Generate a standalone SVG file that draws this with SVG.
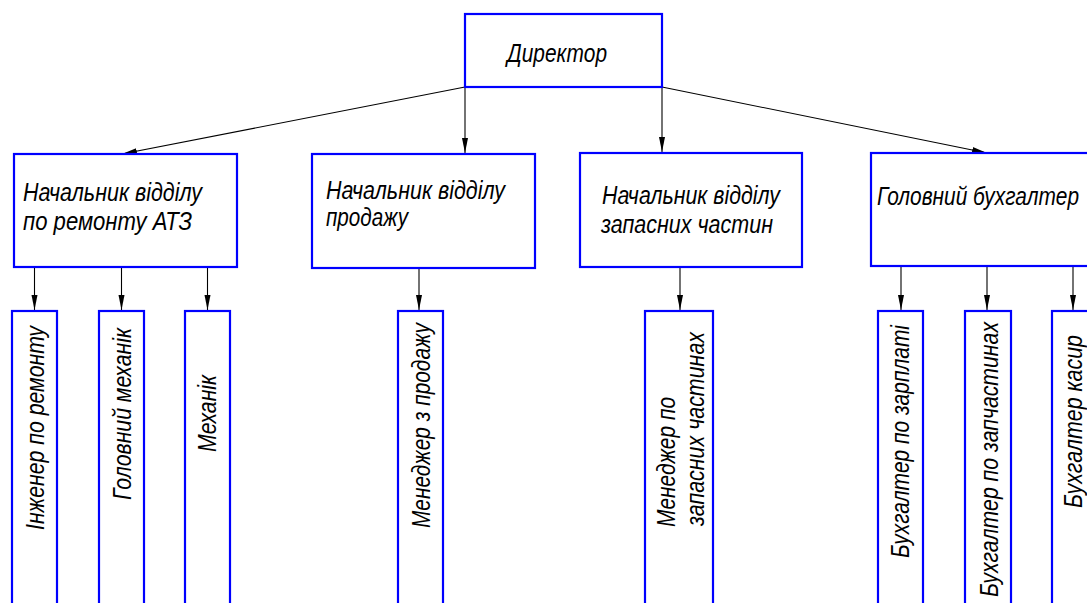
<svg xmlns="http://www.w3.org/2000/svg" width="1087" height="603" viewBox="0 0 1087 603">
<style>
.box{fill:#fff;stroke:#0000ff;stroke-width:2.2}
.t{font-family:"Liberation Sans",Arial,sans-serif;font-style:italic;font-size:26px;fill:#000}
.c{stroke:#000;stroke-width:1.1;fill:none;marker-end:url(#ah)}
</style>
<defs>
<marker id="ah" markerUnits="userSpaceOnUse" markerWidth="16" markerHeight="8" refX="15" refY="3" orient="auto" viewBox="0 0 16 6">
<path d="M0,0 L15,3 L0,6 z" fill="#000"/>
</marker>
</defs>
<rect width="1087" height="603" fill="#fff"/>
<g id="connectors">
<line class="c" x1="465" y1="87" x2="122" y2="154"/>
<line class="c" x1="465" y1="87" x2="465" y2="153"/>
<line class="c" x1="662" y1="87" x2="662" y2="152"/>
<line class="c" x1="662" y1="87" x2="987" y2="153"/>
<line class="c" x1="34.5" y1="267" x2="34.5" y2="310"/>
<line class="c" x1="121.5" y1="267" x2="121.5" y2="310"/>
<line class="c" x1="207.5" y1="267" x2="207.5" y2="310"/>
<line class="c" x1="419" y1="268" x2="419" y2="310"/>
<line class="c" x1="680" y1="267" x2="680" y2="310"/>
<line class="c" x1="901" y1="266" x2="901" y2="310"/>
<line class="c" x1="987" y1="266" x2="987" y2="310"/>
<line class="c" x1="1073" y1="266" x2="1073" y2="310"/>
</g>
<g id="director">
<rect class="box" x="465" y="14" width="197" height="73"/>
<text class="t" x="507" y="62" textLength="100" lengthAdjust="spacingAndGlyphs">Директор</text>
</g>
<g id="head-repair">
<rect class="box" x="14" y="154" width="223" height="113"/>
<text class="t" x="23" y="201" textLength="179" lengthAdjust="spacingAndGlyphs">Начальник відділу</text>
<text class="t" x="23" y="230" textLength="169" lengthAdjust="spacingAndGlyphs">по ремонту АТЗ</text>
</g>
<g id="head-sales">
<rect class="box" x="312" y="154" width="223" height="114"/>
<text class="t" x="326" y="199" textLength="179" lengthAdjust="spacingAndGlyphs">Начальник відділу</text>
<text class="t" x="326" y="226" textLength="82" lengthAdjust="spacingAndGlyphs">продажу</text>
</g>
<g id="head-parts">
<rect class="box" x="580" y="153" width="222" height="114"/>
<text class="t" x="602" y="204" textLength="178" lengthAdjust="spacingAndGlyphs">Начальник відділу</text>
<text class="t" x="601" y="233" textLength="172" lengthAdjust="spacingAndGlyphs">запасних частин</text>
</g>
<g id="chief-accountant">
<rect class="box" x="871" y="153" width="230" height="113"/>
<text class="t" x="877" y="205" textLength="202" lengthAdjust="spacingAndGlyphs">Головний бухгалтер</text>
</g>
<g id="repair-engineer">
<rect class="box" x="12" y="311" width="45" height="310"/>
<text class="t" transform="translate(44,530) rotate(-90)" textLength="204" lengthAdjust="spacingAndGlyphs">Інженер по ремонту</text>
</g>
<g id="chief-mechanic">
<rect class="box" x="99" y="311" width="45" height="310"/>
<text class="t" transform="translate(131,500) rotate(-90)" textLength="172" lengthAdjust="spacingAndGlyphs">Головний механік</text>
</g>
<g id="mechanic">
<rect class="box" x="185" y="311" width="45" height="310"/>
<text class="t" transform="translate(216,452) rotate(-90)" textLength="77" lengthAdjust="spacingAndGlyphs">Механік</text>
</g>
<g id="sales-manager">
<rect class="box" x="398" y="311" width="45" height="310"/>
<text class="t" transform="translate(430,528) rotate(-90)" textLength="205" lengthAdjust="spacingAndGlyphs">Менеджер з продажу</text>
</g>
<g id="parts-manager">
<rect class="box" x="645" y="311" width="68" height="310"/>
<text class="t" transform="translate(675,527) rotate(-90)" textLength="130" lengthAdjust="spacingAndGlyphs">Менеджер по</text>
<text class="t" transform="translate(704,526) rotate(-90)" textLength="194" lengthAdjust="spacingAndGlyphs">запасних частинах</text>
</g>
<g id="salary-accountant">
<rect class="box" x="878" y="311" width="45" height="310"/>
<text class="t" transform="translate(909,558) rotate(-90)" textLength="233" lengthAdjust="spacingAndGlyphs">Бухгалтер по зарплаті</text>
</g>
<g id="parts-accountant">
<rect class="box" x="965" y="311" width="46" height="310"/>
<text class="t" transform="translate(998,597) rotate(-90)" textLength="275" lengthAdjust="spacingAndGlyphs">Бухгалтер по запчастинах</text>
</g>
<g id="cashier-accountant">
<rect class="box" x="1052" y="311" width="46" height="310"/>
<text class="t" transform="translate(1082,508) rotate(-90)" textLength="173" lengthAdjust="spacingAndGlyphs">Бухгалтер касир</text>
</g>
</svg>
